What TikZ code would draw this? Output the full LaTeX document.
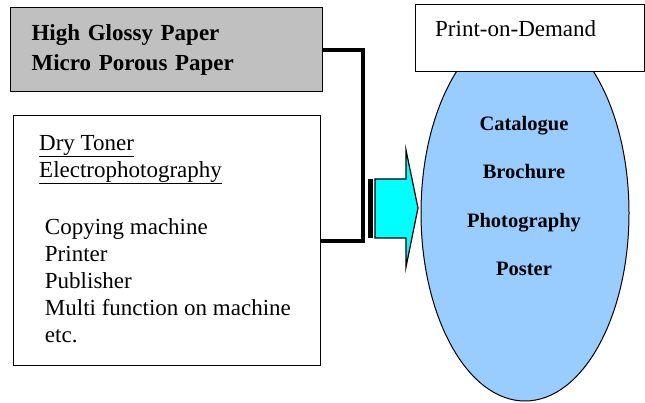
\documentclass[tikz,border=0pt]{standalone}
\usepackage{fontspec}
\setmainfont{Liberation Serif}
\usetikzlibrary{shapes.geometric}
\definecolor{paperGray}{HTML}{C0C0C0}
\definecolor{ovalBlue}{HTML}{99CCFF}
\definecolor{arrowCyan}{HTML}{00FFFF}

\begin{document}
\begin{tikzpicture}[x=1pt, y=1pt,
  box/.style={draw, line width=1.2pt, inner sep=0pt},
  plain/.style={font=\fontsize{23}{27}\selectfont},
  bold/.style={font=\fontsize{20.5}{24}\selectfont\bfseries}]
\useasboundingbox (0,0) rectangle (645,402);

% Oval with the print products
\node[ellipse, draw, line width=1pt, fill=ovalBlue, minimum width=208pt, minimum height=376pt, inner sep=0pt] (uses) at (525,189) {};
\foreach \item [count=\i] in {Catalogue, Brochure, Photography, Poster}
  \node[bold, anchor=base, inner sep=0pt] (use\i) at (524, 319-48*\i) {\item};

% Box on top of the oval
\node[box, fill=white, minimum width=229pt, minimum height=67pt, anchor=north west] (pod) at (415,398) {};
\node[plain, anchor=base west, inner sep=0pt] (podtext) at (435,365) {Print-on-Demand};

% Paper types
\node[box, fill=paperGray, font=\fontsize{23}{30}\selectfont\bfseries, text width=270pt, inner xsep=21pt,
  minimum height=84pt, align=left, anchor=north west] (paper) at (10,395) {High Glossy Paper\\Micro Porous Paper};

% Toner and devices
\node[box, minimum width=307pt, minimum height=250pt, anchor=north west] (toner) at (13,287) {};
\node[plain, inner sep=0pt, align=left, anchor=north west] (tonertext) at (39,267)
  {\underline{Dry Toner}\\ \underline{Electrophotography}\\[30pt]
   \hspace*{0.25em}Copying machine\\ \hspace*{0.25em}Printer\\ \hspace*{0.25em}Publisher\\
   \hspace*{0.25em}Multi function on machine\\ \hspace*{0.25em}etc.};

% Connector joining both boxes
\draw[line width=4pt] (paper.east) -- ++(40,0) |- (toner.east);

% Block arrow
\fill (368,164) rectangle (373,223);
\draw[line width=1.2pt, fill=arrowCyan] (375,164) -- (375,223) -- (406,223) -- (406,252) -- (418,194) -- (406,135) -- (406,164) -- cycle;

\end{tikzpicture}
\end{document}
